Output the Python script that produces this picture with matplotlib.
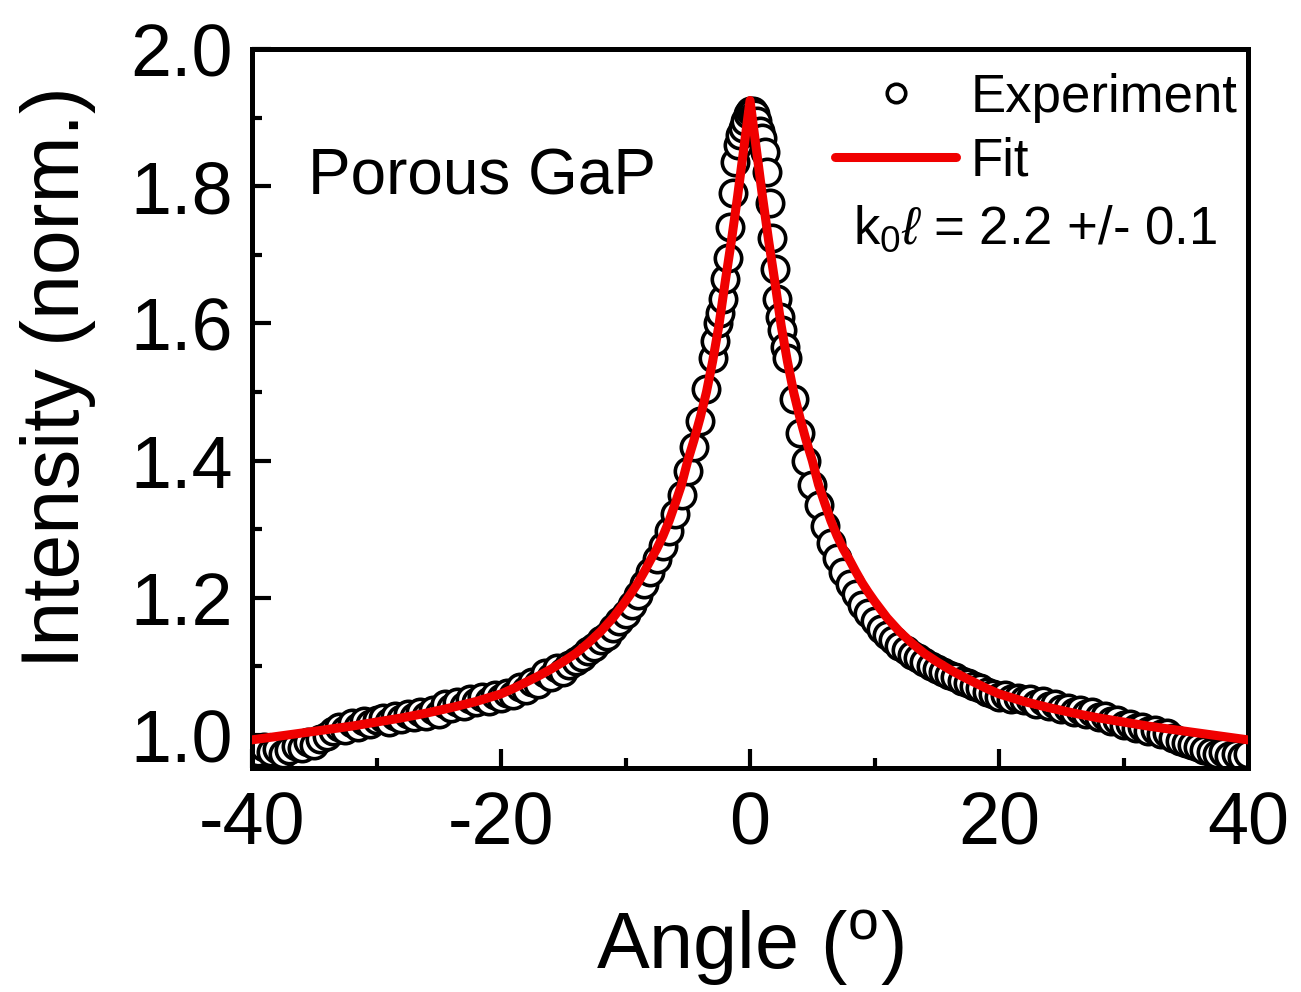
import numpy as np
import matplotlib
matplotlib.use('Agg')
import matplotlib.pyplot as plt
from matplotlib.ticker import MultipleLocator, FormatStrFormatter

plt.rcParams['font.family'] = ['Liberation Sans', 'DejaVu Sans']
plt.rcParams['mathtext.fontset'] = 'custom'
plt.rcParams['mathtext.rm'] = 'Liberation Sans'
plt.rcParams['mathtext.it'] = 'Liberation Sans:italic'
plt.rcParams['mathtext.bf'] = 'Liberation Sans:bold'
plt.rcParams['axes.unicode_minus'] = False

# ---------------- data ----------------
exp_angle_left = [-40.0, -39.5, -39.0, -38.5, -38.0, -37.5, -37.0, -36.5, -36.0, -35.5,
                  -35.0, -34.5, -34.0, -33.5, -33.0, -32.5, -32.0, -31.5, -31.0, -30.5,
                  -30.0, -29.5, -29.0, -28.5, -28.0, -27.5, -27.0, -26.5, -26.0, -25.5,
                  -25.0, -24.5, -24.0, -23.5, -23.0, -22.5, -22.0, -21.5, -21.0, -20.5,
                  -20.0, -19.5, -19.0, -18.5, -18.0, -17.5, -17.0, -16.5, -16.0, -15.5,
                  -15.0, -14.5, -14.0, -13.5, -13.0, -12.5, -12.0, -11.5, -11.0, -10.5,
                  -10.0, -9.5, -9.0, -8.5, -8.0, -7.5, -7.0, -6.5, -6.0, -5.5,
                  -5.0, -4.5, -4.0, -3.5]
exp_int_left = [0.978, 0.975, 0.982, 0.976, 0.980, 0.972, 0.978, 0.984, 0.981, 0.990,
                0.986, 0.995, 0.998, 1.006, 1.012, 1.008, 1.018, 1.012, 1.020, 1.016,
                1.022, 1.025, 1.019, 1.028, 1.024, 1.030, 1.026, 1.033, 1.028, 1.036,
                1.031, 1.045, 1.040, 1.048, 1.043, 1.052, 1.048, 1.055, 1.050, 1.058,
                1.054, 1.062, 1.058, 1.070, 1.066, 1.078, 1.075, 1.090, 1.084, 1.098,
                1.092, 1.102, 1.108, 1.114, 1.122, 1.128, 1.138, 1.145, 1.156, 1.166,
                1.176, 1.190, 1.204, 1.220, 1.238, 1.256, 1.276, 1.298, 1.322, 1.350,
                1.385, 1.420, 1.458, 1.505]

exp_angle_mid = [-3.0, -2.8, -2.6, -2.4, -2.2, -2.0, -1.8, -1.6, -1.4, -1.2, -1.0,
                 -0.8, -0.6, -0.4, -0.2, 0.0, 0.2, 0.4, 0.6, 0.8, 1.0,
                 1.2, 1.4, 1.6, 1.8, 2.0, 2.2, 2.4, 2.6, 2.8, 3.0]
exp_int_mid = [1.550, 1.575, 1.600, 1.615, 1.635, 1.665, 1.695, 1.740, 1.790, 1.835, 1.860,
               1.875, 1.885, 1.895, 1.905, 1.910, 1.910, 1.905, 1.895, 1.880, 1.870,
               1.850, 1.820, 1.775, 1.725, 1.680, 1.635, 1.610, 1.590, 1.565, 1.550]

exp_angle_right = [3.5, 4.0, 4.5, 5.0, 5.5, 6.0, 6.5, 7.0, 7.5, 8.0,
                   8.5, 9.0, 9.5, 10.0, 10.5, 11.0, 11.5, 12.0, 12.5, 13.0,
                   13.5, 14.0, 14.5, 15.0, 15.5, 16.0, 16.5, 17.0, 17.5, 18.0,
                   18.5, 19.0, 19.5, 20.0, 20.5, 21.0, 21.5, 22.0, 22.5, 23.0,
                   23.5, 24.0, 24.5, 25.0, 25.5, 26.0, 26.5, 27.0, 27.5, 28.0,
                   28.5, 29.0, 29.5, 30.0, 30.5, 31.0, 31.5, 32.0, 32.5, 33.0,
                   33.5, 34.0, 34.5, 35.0, 35.5, 36.0, 36.5, 37.0, 37.5, 38.0,
                   38.5, 39.0, 39.5, 40.0]
exp_int_right = [1.490, 1.440, 1.400, 1.365, 1.335, 1.305, 1.280, 1.258, 1.238, 1.220,
                 1.205, 1.190, 1.178, 1.166, 1.155, 1.146, 1.138, 1.130, 1.124, 1.117,
                 1.112, 1.106, 1.101, 1.096, 1.092, 1.087, 1.084, 1.079, 1.076, 1.071,
                 1.068, 1.063, 1.060, 1.055, 1.058, 1.052, 1.054, 1.051, 1.053, 1.046,
                 1.049, 1.042, 1.045, 1.038, 1.040, 1.033, 1.036, 1.030, 1.033, 1.026,
                 1.028, 1.020, 1.022, 1.014, 1.016, 1.010, 1.012, 1.006, 1.008, 1.001,
                 1.003, 0.996, 0.992, 0.988, 0.985, 0.982, 0.978, 0.975, 0.972, 0.976,
                 0.970, 0.973, 0.968, 0.972]

fit_angle = [-40, -38, -36, -34, -32, -30, -28, -26, -24, -22, -20, -19, -18, -17, -16,
             -15, -14, -13, -12, -11, -10, -9.5, -9, -8.5, -8, -7.5, -7, -6.5, -6, -5.5,
             -5, -4.5, -4, -3.5, -3, -2.5, -2, -1.5, -1, -0.5, 0,
             0.5, 1, 1.5, 2, 2.5, 3, 3.5, 4, 4.5, 5, 5.5, 6, 6.5, 7, 7.5, 8, 8.5, 9, 9.5,
             10, 11, 12, 13, 14, 15, 16, 17, 18, 19, 20, 22, 24, 26, 28, 30, 32, 34, 36,
             38, 40]
fit_int = [0.993, 0.998, 1.003, 1.008, 1.013, 1.019, 1.025, 1.032, 1.040, 1.049, 1.060, 1.068,
           1.077, 1.086, 1.096, 1.107, 1.119, 1.134, 1.151, 1.171, 1.195, 1.208, 1.222, 1.238,
           1.255, 1.271, 1.290, 1.312, 1.338, 1.365, 1.400, 1.430, 1.463, 1.500, 1.545, 1.597,
           1.660, 1.720, 1.785, 1.855, 1.925,
           1.855, 1.785, 1.720, 1.660, 1.597, 1.545, 1.500, 1.463, 1.430, 1.400, 1.365, 1.338,
           1.312, 1.290, 1.271, 1.255, 1.238, 1.222, 1.208, 1.195, 1.171, 1.151, 1.134, 1.119,
           1.107, 1.096, 1.086, 1.077, 1.068, 1.060, 1.049, 1.040, 1.032, 1.025, 1.019, 1.013,
           1.008, 1.003, 0.998, 0.993]

x_ticks = [-40, -20, 0, 20, 40]
y_ticks = [1.0, 1.2, 1.4, 1.6, 1.8, 2.0]

exp_angle = exp_angle_left + exp_angle_mid + exp_angle_right
exp_int = exp_int_left + exp_int_mid + exp_int_right

# ---------------- figure ----------------
fig = plt.figure(figsize=(13.01, 9.92), dpi=100)
ax = fig.add_axes([0.1937, 0.2258, 0.7656, 0.7248])

ax.plot(exp_angle, exp_int, 'o', ms=19, mfc='white', mec='black', mew=2.6,
        label='Experiment', zorder=2)
ax.plot(fit_angle, fit_int, '-', color='#f00000', lw=6.5, label='Fit', zorder=3,
        solid_capstyle='round', solid_joinstyle='round')

ax.set_xlim(-40, 40)
ax.set_ylim(0.952, 2.0)
ax.set_xticks(x_ticks)
ax.set_yticks(y_ticks)
ax.xaxis.set_minor_locator(MultipleLocator(10))
ax.yaxis.set_minor_locator(MultipleLocator(0.1))
ax.yaxis.set_major_formatter(FormatStrFormatter('%.1f'))

for s in ax.spines.values():
    s.set_linewidth(3.6)

ax.tick_params(which='major', direction='in', length=14, width=3, labelsize=53,
               top=False, right=False)
ax.tick_params(which='minor', direction='in', length=7, width=3, top=False, right=False)
ax.tick_params(axis='y', which='major', pad=14)
ax.tick_params(axis='x', which='major', pad=16)

ax.set_xlabel(r'Angle ($^{\mathrm{o}}$)', fontsize=57, va='center')
ax.xaxis.set_label_coords(0.5, -0.250)
ax.set_ylabel('Intensity (norm.)', fontsize=58, va='center')
ax.yaxis.set_label_coords(-0.195, 0.544)

ax.text(0.056, 0.797, 'Porous GaP', transform=ax.transAxes, fontsize=46,
        ha='left', va='baseline')
ax.text(0.603, 0.730, r'k$_0$$\ell$ = 2.2 +/- 0.1', transform=ax.transAxes, fontsize=38,
        ha='left', va='baseline')

ax.legend(loc='upper right', bbox_to_anchor=(1.0, 0.982), frameon=False, fontsize=38,
          markerscale=0.7, handlelength=2.3, handletextpad=0.27, labelspacing=0.26,
          borderpad=0.2, borderaxespad=0)

fig.savefig('out.png', dpi=100)
